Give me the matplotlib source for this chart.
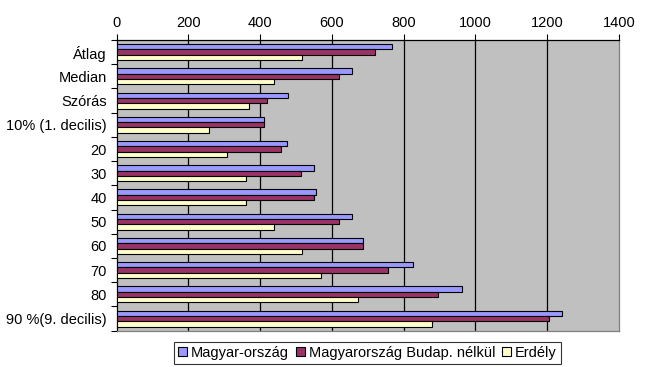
import matplotlib
matplotlib.use("Agg")
import matplotlib.pyplot as plt
import numpy as np
from matplotlib.patches import Patch

plt.rcParams['font.family'] = ['Liberation Sans', 'DejaVu Sans']

categories = ["Átlag", "Median", "Szórás", "10% (1. decilis)", "20", "30", "40",
              "50", "60", "70", "80", "90 %(9. decilis)"]
series_names = ["Magyar-ország", "Magyarország Budap. nélkül", "Erdély"]
magyarorszag = [768, 657, 479, 412, 476, 551, 556, 657, 687, 826, 963, 1241]
budap_nelkul = [721, 621, 420, 412, 459, 515, 550, 621, 687, 757, 896, 1205]
erdely = [518, 440, 370, 258, 309, 361, 361, 440, 518, 570, 674, 879]
colors = ["#9999FF", "#993366", "#FFFFCC"]
xticks = [0, 200, 400, 600, 800, 1000, 1200, 1400]

fig = plt.figure(figsize=(6.45, 3.67), dpi=100)
ax = fig.add_axes([116.5/645, 1 - 330.7/367, (619 - 116.5)/645, (330.7 - 40)/367])
ax.set_facecolor("#C0C0C0")

n = len(categories)
y = np.arange(n)
h = 0.22
for i, (vals, c) in enumerate(zip([magyarorszag, budap_nelkul, erdely], colors)):
    ax.barh(y + (i - 1) * h, vals, height=h, color=c, edgecolor="black",
            linewidth=0.8, zorder=3, label=series_names[i])

ax.set_xlim(0, 1400)
ax.set_ylim(n - 0.5, -0.5)
ax.set_xticks(xticks)
ax.xaxis.tick_top()
ax.tick_params(axis='x', direction='out', length=4, width=0.8, labelsize=10.5, pad=3)
for xv in xticks[1:-1]:
    ax.axvline(xv, color="black", linewidth=0.9, zorder=1)

ax.set_yticks(y)
ax.set_yticklabels(categories, fontsize=10.5)
ax.tick_params(axis='y', length=0, pad=7)
ax.set_yticks(np.arange(n + 1) - 0.5, minor=True)
ax.tick_params(axis='y', which='minor', direction='out', length=4, width=0.8)

ax.spines['top'].set_color('black')
ax.spines['left'].set_color('black')
ax.spines['right'].set_color('#808080')
ax.spines['bottom'].set_color('#808080')
for s in ax.spines.values():
    s.set_linewidth(0.9)

handles = [Patch(facecolor=c, edgecolor="black", linewidth=0.8) for c in colors]
leg = fig.legend(handles, series_names, loc="center", bbox_to_anchor=(367.5/645, 1 - 353/367),
                 ncol=3, fontsize=10.5, frameon=True, fancybox=False, edgecolor="black",
                 handlelength=0.6, handleheight=0.6, handletextpad=0.25, columnspacing=0.5,
                 borderpad=0.3, borderaxespad=0)
leg.get_frame().set_linewidth(0.8)

fig.savefig("out.png", dpi=100)
